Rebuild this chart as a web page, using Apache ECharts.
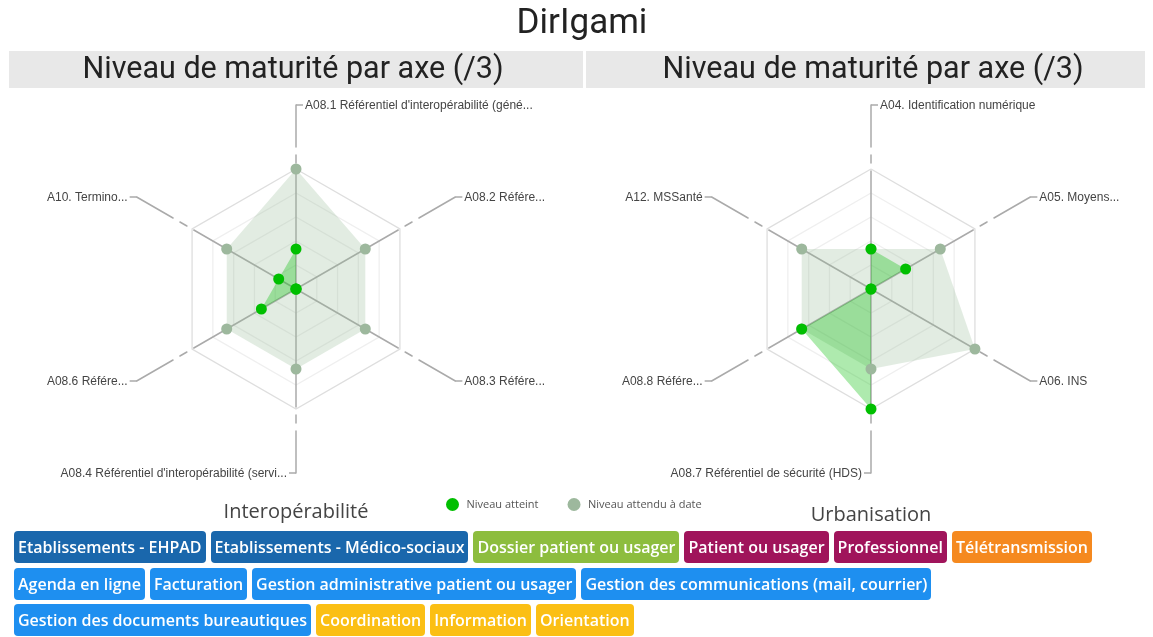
<!DOCTYPE html>
<html>
<head>
<meta charset="utf-8">
<title>DirIgami</title>
<script src="https://cdn.jsdelivr.net/npm/echarts@6/dist/echarts.min.js"></script>
<style>
  body { margin: 0; background: #fff; }
  #main { position: absolute; left: 0; top: 0; width: 1153px; height: 637px; }
  #tags { position: absolute; left: 14px; top: 531px; width: 1135px; font-family: 'Open Sans', sans-serif; }
  .row { display: flex; height: 32px; margin-bottom: 4.5px; }
  .tag { color: #fff; font-weight: 600; font-size: 16px; line-height: 32px; padding: 0 4px;
         border-radius: 4px; margin-right: 5px; white-space: nowrap; }
</style>
</head>
<body>
<div id="main"></div>
<div id="tags"></div>
<script>
// axes dans l'ordre horaire depuis le haut
var axesInterop = [
  "A08.1 Référentiel d'interopérabilité (géné...",
  'A08.2 Référe...',
  'A08.3 Référe...',
  "A08.4 Référentiel d'interopérabilité (servi...",
  'A08.6 Référe...',
  'A10. Termino...'
];
var atteintInterop = [1, 0, 0, 0, 1, 0.5];
var attenduInterop = [3, 2, 2, 2, 2, 2];

var axesUrba = [
  'A04. Identification numérique',
  'A05. Moyens...',
  'A06. INS',
  'A08.7 Référentiel de sécurité (HDS)',
  'A08.8 Référe...',
  'A12. MSSanté'
];
var atteintUrba = [1, 1, 0, 3, 2, 0];
var attenduUrba = [1, 2, 3, 2, 2, 2];

var niveauMax = 3;
var legendNames = ['Niveau atteint', 'Niveau attendu à date'];
var sections = ['Interopérabilité', 'Urbanisation'];

var tagRows = [
  [['Etablissements - EHPAD', 'etab'], ['Etablissements - Médico-sociaux', 'etab'], ['Dossier patient ou usager', 'dossier'],
   ['Patient ou usager', 'patient'], ['Professionnel', 'patient'], ['Télétransmission', 'tele']],
  [['Agenda en ligne', 'outil'], ['Facturation', 'outil'], ['Gestion administrative patient ou usager', 'outil'],
   ['Gestion des communications (mail, courrier)', 'outil']],
  [['Gestion des documents bureautiques', 'outil'], ['Coordination', 'coord'], ['Information', 'coord'], ['Orientation', 'coord']]
];
var tagColors = { etab: '#1a67ac', dossier: '#8dbd3e', patient: '#a0145b', tele: '#f5891f', outil: '#1e8ff0', coord: '#fbbf14' };

// les étiquettes sous forme de html
var tagsDiv = document.getElementById('tags');
tagRows.forEach(function (row) {
  var r = document.createElement('div');
  r.className = 'row';
  row.forEach(function (t) {
    var s = document.createElement('span');
    s.className = 'tag';
    s.textContent = t[0];
    s.style.background = tagColors[t[1]];
    r.appendChild(s);
  });
  tagsDiv.appendChild(r);
});

var centres = [[296, 289], [871, 289]];
var rayon = 120, rayonAxe = 184;
var police = "'Liberation Sans', Arial, sans-serif";
var policeTitre = "Roboto, 'Liberation Sans', sans-serif";

// echarts place les indicateurs dans le sens anti-horaire
function horaire(a) { return [a[0]].concat(a.slice(1).reverse()); }

function radars(axes, centre) {
  return [{
    center: centre, radius: rayon, shape: 'polygon', splitNumber: 5,
    indicator: horaire(axes).map(function (n) { return { name: n, min: 0, max: niveauMax }; }),
    axisName: { show: false },
    axisLine: { show: false },
    splitArea: { show: false },
    splitLine: { lineStyle: { color: ['#efefef', '#efefef', '#efefef', '#efefef', '#efefef', '#dedede'], width: 1.3 } }
  }, {
    center: centre, radius: rayonAxe, shape: 'polygon', splitNumber: 1,
    indicator: horaire(axes).map(function (n) { return { name: n, min: 0, max: 1 }; }),
    axisName: { show: false },
    axisLine: { lineStyle: { color: '#aaaaaa', width: 1.5, type: [118, 8, 8, 8, 100, 10] } },
    splitArea: { show: false },
    splitLine: { show: false }
  }];
}

function series(radarIndex, atteint, attendu) {
  return [{
    name: legendNames[1], type: 'radar', radarIndex: radarIndex,
    symbol: 'circle', symbolSize: 11,
    itemStyle: { color: '#9db89d' },
    lineStyle: { width: 0, opacity: 0 },
    areaStyle: { color: 'rgba(150,185,150,0.4)' },
    data: [{ name: legendNames[1], value: horaire(attendu) }]
  }, {
    name: legendNames[0], type: 'radar', radarIndex: radarIndex,
    symbol: 'circle', symbolSize: 11,
    itemStyle: { color: '#00bf00' },
    lineStyle: { width: 0, opacity: 0 },
    areaStyle: { color: 'rgba(0,190,0,0.45)' },
    data: [{ name: legendNames[0], value: horaire(atteint) }]
  }];
}

// noms des axes et petits traits de rappel
function nomsAxes(axes, centre) {
  var els = [];
  axes.forEach(function (n, i) {
    var a = (90 - i * 60) * Math.PI / 180;
    var x = centre[0] + rayonAxe * Math.cos(a);
    var y = centre[1] - rayonAxe * Math.sin(a);
    var droite = (i <= 2);
    var dx = droite ? 7 : -7;
    els.push({ type: 'line', shape: { x1: x, y1: y, x2: x + dx, y2: y }, style: { stroke: '#aaaaaa', lineWidth: 1.5 } });
    els.push({ type: 'text', x: x + dx + (droite ? 2 : -2), y: y + 1,
      style: { text: n, font: '12px ' + police, fill: '#444', textAlign: droite ? 'left' : 'right', textVerticalAlign: 'middle' } });
  });
  return els;
}

var graphics = [
  { type: 'rect', shape: { x: 9, y: 51, width: 574, height: 37 }, style: { fill: '#e8e8e8' } },
  { type: 'rect', shape: { x: 586, y: 51, width: 559, height: 37 }, style: { fill: '#e8e8e8' } },
  { type: 'text', x: 582, y: 24, style: { text: 'DirIgami', font: '35px ' + policeTitre, fill: '#222', textAlign: 'center', textVerticalAlign: 'middle' } },
  { type: 'text', x: 293, y: 70, style: { text: 'Niveau de maturité par axe (/3)', font: '30.5px ' + policeTitre, fill: '#222', textAlign: 'center', textVerticalAlign: 'middle' } },
  { type: 'text', x: 873, y: 70, style: { text: 'Niveau de maturité par axe (/3)', font: '30.5px ' + policeTitre, fill: '#222', textAlign: 'center', textVerticalAlign: 'middle' } },
  { type: 'text', x: 296, y: 512, style: { text: sections[0], font: "20px 'Open Sans', sans-serif", fill: '#444', textAlign: 'center', textVerticalAlign: 'middle' } },
  { type: 'text', x: 871, y: 515, style: { text: sections[1], font: "20px 'Open Sans', sans-serif", fill: '#444', textAlign: 'center', textVerticalAlign: 'middle' } }
].concat(nomsAxes(axesInterop, centres[0]), nomsAxes(axesUrba, centres[1]));

var myChart = echarts.init(document.getElementById('main'));
var option = {
  backgroundColor: '#fff',
  animation: false,
  legend: {
    data: legendNames, left: 441, top: 493, icon: 'circle',
    itemWidth: 18, itemHeight: 13, itemGap: 29,
    textStyle: { fontSize: 11, color: '#555', fontFamily: "'Open Sans', sans-serif" }
  },
  radar: radars(axesInterop, centres[0]).concat(radars(axesUrba, centres[1])),
  series: series(0, atteintInterop, attenduInterop).concat(series(2, atteintUrba, attenduUrba)),
  graphic: graphics
};
myChart.setOption(option);
</script>
</body>
</html>
